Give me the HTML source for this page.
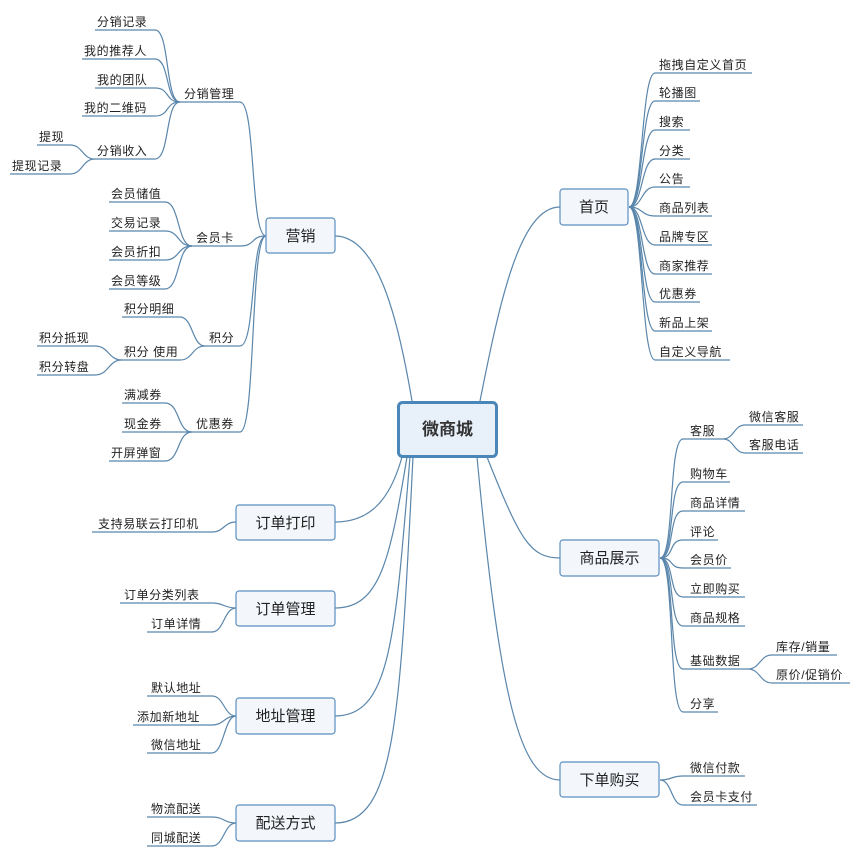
<!DOCTYPE html>
<html><head><meta charset="utf-8"><style>
html,body{margin:0;padding:0;background:#fff;}
svg{display:block;font-family:"Liberation Sans","Noto Sans CJK SC",sans-serif;}
.l{fill:none;stroke:#5a86ab;stroke-width:1.2;}
.t{font-size:12px;fill:#222;letter-spacing:0.6px;}
.b{fill:#f3f7fc;stroke:#5b8ec0;stroke-width:1.2;}
.bt{font-size:15px;fill:#222;text-anchor:middle;}
</style></head><body>
<svg width="860" height="858" viewBox="0 0 860 858">
<!-- center connections -->
<path class="l" d="M412,401 C400,330 380,236 335,236"/>
<path class="l" d="M480,401 C500,300 520,207 560,207"/>
<path class="l" d="M487,457 C520,540 530,558 560,558"/>
<path class="l" d="M477,457 C500,700 520,780 560,780"/>
<path class="l" d="M402,457 C390,500 370,522 335,522"/>
<path class="l" d="M407,457 C390,560 380,608 335,608"/>
<path class="l" d="M410,457 C395,640 390,716 335,716"/>
<path class="l" d="M413,457 C400,720 395,823 335,823"/>

<!-- 营销 subtree -->
<path class="l" d="M266,236 C250,236 256,102 240,102 H180"/><text class="t" x="184" y="98">分销管理</text>
<path class="l" d="M266,236 C250,236 256,246 240,246 H192"/><text class="t" x="196" y="242">会员卡</text>
<path class="l" d="M266,236 C250,236 256,346 240,346 H205"/><text class="t" x="209" y="342">积分</text>
<path class="l" d="M266,236 C250,236 256,432 240,432 H192"/><text class="t" x="196" y="428">优惠券</text>

<path class="l" d="M180,102 C165,102 170,30 155,30 H95"/><text class="t" x="97" y="26">分销记录</text>
<path class="l" d="M180,102 C165,102 170,59 155,59 H82"/><text class="t" x="84" y="55">我的推荐人</text>
<path class="l" d="M180,102 C165,102 170,88 155,88 H95"/><text class="t" x="97" y="84">我的团队</text>
<path class="l" d="M180,102 C165,102 170,116 155,116 H82"/><text class="t" x="84" y="112">我的二维码</text>
<path class="l" d="M180,102 C165,102 170,159 155,159 H95"/><text class="t" x="97" y="155">分销收入</text>
<path class="l" d="M95,159 C82,159 83,145 70,145 H37"/><text class="t" x="39" y="141">提现</text>
<path class="l" d="M95,159 C82,159 83,174 70,174 H10"/><text class="t" x="12" y="170">提现记录</text>

<path class="l" d="M192,246 C177,246 180,202 165,202 H109"/><text class="t" x="111" y="198">会员储值</text>
<path class="l" d="M192,246 C177,246 180,231 165,231 H109"/><text class="t" x="111" y="227">交易记录</text>
<path class="l" d="M192,246 C177,246 180,260 165,260 H109"/><text class="t" x="111" y="256">会员折扣</text>
<path class="l" d="M192,246 C177,246 180,289 165,289 H109"/><text class="t" x="111" y="285">会员等级</text>

<path class="l" d="M205,346 C192,346 193,317 180,317 H122"/><text class="t" x="124" y="313">积分明细</text>
<path class="l" d="M205,346 C192,346 193,360 180,360 H122"/><text class="t" x="124" y="356">积分 使用</text>
<path class="l" d="M122,360 C108,360 109,346 95,346 H37"/><text class="t" x="39" y="342">积分抵现</text>
<path class="l" d="M122,360 C108,360 109,375 95,375 H37"/><text class="t" x="39" y="371">积分转盘</text>

<path class="l" d="M192,432 C177,432 180,403 165,403 H122"/><text class="t" x="124" y="399">满减券</text>
<path class="l" d="M192,432 H122"/><text class="t" x="124" y="428">现金券</text>
<path class="l" d="M192,432 C177,432 180,461 165,461 H109"/><text class="t" x="111" y="457">开屏弹窗</text>

<!-- 首页 subtree -->
<path class="l" d="M629,207 C643,207 641,73 655,73 H752"/><text class="t" x="659" y="69">拖拽自定义首页</text>
<path class="l" d="M629,207 C643,207 641,101 655,101 H700"/><text class="t" x="659" y="97">轮播图</text>
<path class="l" d="M629,207 C643,207 641,130 655,130 H690"/><text class="t" x="659" y="126">搜索</text>
<path class="l" d="M629,207 C643,207 641,159 655,159 H690"/><text class="t" x="659" y="155">分类</text>
<path class="l" d="M629,207 C643,207 641,187 655,187 H690"/><text class="t" x="659" y="183">公告</text>
<path class="l" d="M629,207 C643,207 641,216 655,216 H712"/><text class="t" x="659" y="212">商品列表</text>
<path class="l" d="M629,207 C643,207 641,245 655,245 H712"/><text class="t" x="659" y="241">品牌专区</text>
<path class="l" d="M629,207 C643,207 641,274 655,274 H712"/><text class="t" x="659" y="270">商家推荐</text>
<path class="l" d="M629,207 C643,207 641,302 655,302 H700"/><text class="t" x="659" y="298">优惠券</text>
<path class="l" d="M629,207 C643,207 641,331 655,331 H712"/><text class="t" x="659" y="327">新品上架</text>
<path class="l" d="M629,207 C643,207 641,360 655,360 H730"/><text class="t" x="659" y="356">自定义导航</text>

<!-- 商品展示 subtree -->
<path class="l" d="M660,558 C675,558 668,439 683,439 H723"/><text class="t" x="690" y="435">客服</text>
<path class="l" d="M660,558 C675,558 668,482 683,482 H730"/><text class="t" x="690" y="478">购物车</text>
<path class="l" d="M660,558 C675,558 668,511 683,511 H745"/><text class="t" x="690" y="507">商品详情</text>
<path class="l" d="M660,558 C675,558 668,540 683,540 H718"/><text class="t" x="690" y="536">评论</text>
<path class="l" d="M660,558 C675,558 668,568 683,568 H731"/><text class="t" x="690" y="564">会员价</text>
<path class="l" d="M660,558 C675,558 668,597 683,597 H745"/><text class="t" x="690" y="593">立即购买</text>
<path class="l" d="M660,558 C675,558 668,626 683,626 H745"/><text class="t" x="690" y="622">商品规格</text>
<path class="l" d="M660,558 C675,558 668,669 683,669 H748"/><text class="t" x="690" y="665">基础数据</text>
<path class="l" d="M660,558 C675,558 668,712 683,712 H718"/><text class="t" x="690" y="708">分享</text>
<path class="l" d="M723,439 C734,439 734,425 745,425 H803"/><text class="t" x="749" y="421">微信客服</text>
<path class="l" d="M723,439 C734,439 734,453 745,453 H803"/><text class="t" x="749" y="449">客服电话</text>
<path class="l" d="M748,669 C760,669 760,655 772,655 H837"/><text class="t" x="776" y="651">库存/销量</text>
<path class="l" d="M748,669 C760,669 760,683 772,683 H850"/><text class="t" x="776" y="679">原价/促销价</text>

<!-- 下单购买 -->
<path class="l" d="M660,780 C672,780 671,776 683,776 H745"/><text class="t" x="690" y="772">微信付款</text>
<path class="l" d="M660,780 C672,780 671,805 683,805 H757"/><text class="t" x="690" y="801">会员卡支付</text>

<!-- left bottom -->
<path class="l" d="M236,522 C224,522 224,532 212,532 H92"/><text class="t" x="98" y="528">支持易联云打印机</text>
<path class="l" d="M236,608 C224,608 224,603 212,603 H120"/><text class="t" x="124" y="599">订单分类列表</text>
<path class="l" d="M236,608 C224,608 224,632 212,632 H147"/><text class="t" x="151" y="628">订单详情</text>
<path class="l" d="M236,716 C224,716 224,696 212,696 H147"/><text class="t" x="151" y="692">默认地址</text>
<path class="l" d="M236,716 C224,716 224,725 212,725 H133"/><text class="t" x="137" y="721">添加新地址</text>
<path class="l" d="M236,716 C224,716 224,753 212,753 H147"/><text class="t" x="151" y="749">微信地址</text>
<path class="l" d="M236,823 C224,823 224,817 212,817 H147"/><text class="t" x="151" y="813">物流配送</text>
<path class="l" d="M236,823 C224,823 224,846 212,846 H147"/><text class="t" x="151" y="842">同城配送</text>

<!-- boxes -->
<rect class="b" x="266" y="218" width="69" height="35" rx="3"/><text class="bt" x="300.5" y="241">营销</text>
<rect class="b" x="560" y="189" width="68" height="36" rx="3"/><text class="bt" x="594" y="212">首页</text>
<rect class="b" x="560" y="540" width="99" height="36" rx="3"/><text class="bt" x="609.5" y="563">商品展示</text>
<rect class="b" x="560" y="762" width="99" height="35" rx="3"/><text class="bt" x="609.5" y="785">下单购买</text>
<rect class="b" x="236" y="505" width="99" height="35" rx="3"/><text class="bt" x="285.5" y="528">订单打印</text>
<rect class="b" x="236" y="591" width="99" height="35" rx="3"/><text class="bt" x="285.5" y="614">订单管理</text>
<rect class="b" x="236" y="698" width="99" height="36" rx="3"/><text class="bt" x="285.5" y="721">地址管理</text>
<rect class="b" x="236" y="805" width="99" height="36" rx="3"/><text class="bt" x="285.5" y="828">配送方式</text>

<rect x="398.5" y="402.5" width="98" height="54" rx="4" fill="#e8f0fa" stroke="#4a86b8" stroke-width="3"/>
<text x="447.5" y="435" font-size="17" font-weight="bold" fill="#333" text-anchor="middle">微商城</text>
</svg>
</body></html>
